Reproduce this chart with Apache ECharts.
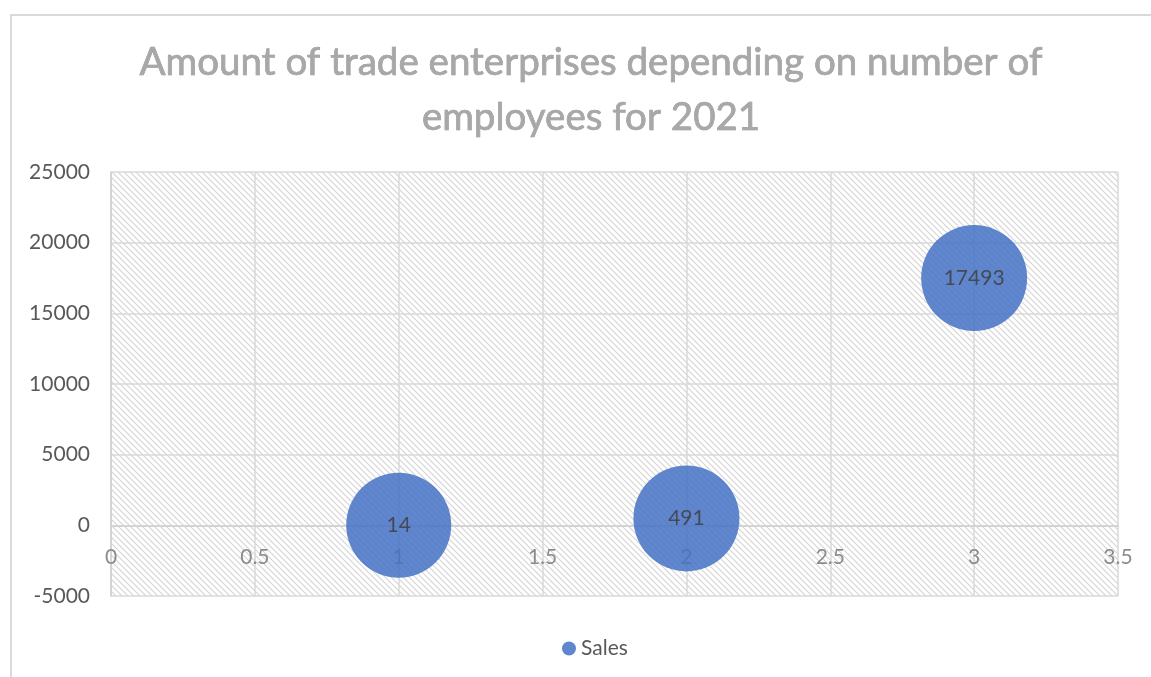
<!DOCTYPE html>
<html>
<head>
<meta charset="utf-8">
<script src="https://cdn.jsdelivr.net/npm/echarts@6/dist/echarts.min.js"></script>
<style>html,body{margin:0;padding:0;background:#fff;}#c{width:1151px;height:677px;}</style>
</head>
<body>
<div id="c"></div>
<script>
var titleLines = ['Amount of trade enterprises depending on number of', 'employees for 2021'];
var seriesName = 'Sales';
var xValues = [1, 2, 3];
var yValues = [14, 491, 17493];
var bubbleSizes = [105, 106, 106];
var xTicks = {min: 0, max: 3.5, interval: 0.5};
var yTicks = {min: -5000, max: 25000, interval: 5000};

var GRID = {left: 111, right: 33, top: 172, bottom: 81};
var gridHeight = 677 - GRID.top - GRID.bottom;
// move the x axis up to the y = 0 line (Excel crosses the axes at zero)
var xAxisOffset = -((0 - yTicks.min) / (yTicks.max - yTicks.min)) * gridHeight;

var P = 6;
var pc = document.createElement('canvas');
pc.width = P; pc.height = P;
var g = pc.getContext('2d');
g.fillStyle = '#ffffff'; g.fillRect(0, 0, P, P);
g.strokeStyle = '#d3d3d3'; g.lineWidth = 1.1;
g.beginPath(); g.moveTo(-1, -1); g.lineTo(P + 1, P + 1); g.stroke();
g.beginPath(); g.moveTo(-1, P - 1); g.lineTo(1, P + 1); g.stroke();
g.beginPath(); g.moveTo(P - 1, -1); g.lineTo(P + 1, 1); g.stroke();

var data = xValues.map(function (x, i) { return [x, yValues[i], bubbleSizes[i]]; });

var chart = echarts.init(document.getElementById('c'));
chart.setOption({
  animation: false,
  backgroundColor: '#ffffff',
  title: {
    text: titleLines.join('\n'),
    left: 586, top: 30, textAlign: 'center',
    textStyle: {
      fontFamily: 'Lato', fontSize: 38.5, fontWeight: 'normal',
      color: '#a8a8a8', textBorderColor: '#8a8a8a', textBorderWidth: 0.6,
      lineHeight: 55
    }
  },
  graphic: [{
    type: 'polyline', silent: true,
    shape: {points: [[11, 677], [11, 15], [1151, 15]]},
    style: {stroke: '#d9d9d9', lineWidth: 2, fill: null}
  }],
  legend: {
    data: [seriesName], left: 557, top: 633,
    icon: 'circle', itemWidth: 14, itemHeight: 14, itemGap: 6,
    textStyle: {fontFamily: 'Lato', fontSize: 21, color: '#595959'}
  },
  grid: {
    left: GRID.left, right: GRID.right, top: GRID.top, bottom: GRID.bottom,
    show: true, borderWidth: 0,
    backgroundColor: {image: pc, repeat: 'repeat'}
  },
  xAxis: {
    type: 'value', min: xTicks.min, max: xTicks.max, interval: xTicks.interval,
    position: 'bottom', offset: xAxisOffset,
    axisLine: {show: true, onZero: false, lineStyle: {color: '#cfcfcf', width: 1.5}},
    axisTick: {show: false},
    axisLabel: {margin: 21, fontFamily: 'Lato', fontSize: 21, color: '#8c8c8c'},
    splitLine: {show: true, lineStyle: {color: '#d9d9d9', width: 1.5}}
  },
  yAxis: {
    type: 'value', min: yTicks.min, max: yTicks.max, interval: yTicks.interval,
    axisLine: {show: true, onZero: false, lineStyle: {color: '#cfcfcf', width: 1.5}},
    axisTick: {show: false},
    axisLabel: {margin: 21, fontFamily: 'Lato', fontSize: 21, color: '#595959',
      formatter: function (v) { return String(v); }},
    splitLine: {show: true, lineStyle: {color: '#d9d9d9', width: 1.5}}
  },
  series: [{
    name: seriesName, type: 'scatter', data: data,
    symbolSize: function (v) { return v[2]; },
    itemStyle: {color: '#4472C4', opacity: 0.85},
    label: {
      show: true, position: 'inside',
      formatter: function (p) { return p.value[1]; },
      fontFamily: 'Lato', fontSize: 21, color: '#404040'
    }
  }]
});
</script>
</body>
</html>
